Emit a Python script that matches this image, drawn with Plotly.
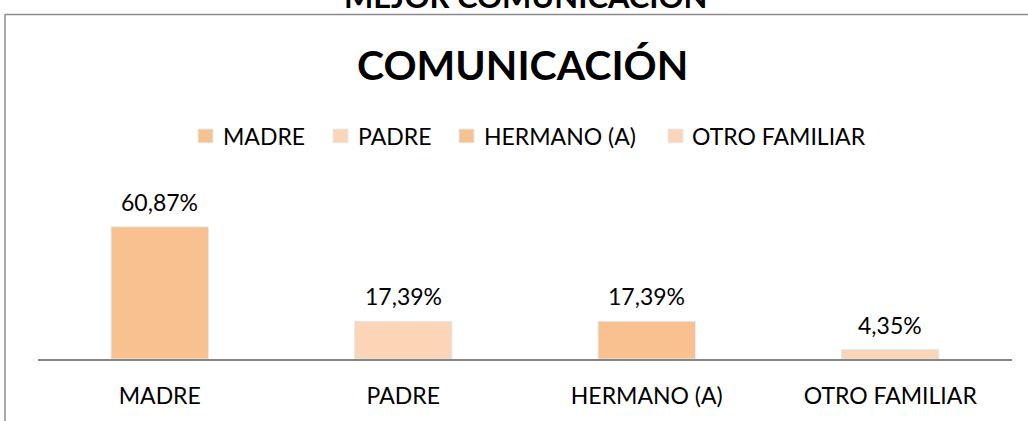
import plotly.graph_objects as go

categories = ["MADRE", "PADRE", "HERMANO (A)", "OTRO FAMILIAR"]
values = [60.87, 17.39, 17.39, 4.35]
labels = ["60,87%", "17,39%", "17,39%", "4,35%"]
colors = ["#F9C18F", "#FBD5B5", "#F9C18F", "#FBD5B5"]

FONT = "Lato"
FS = 23
W, H = 1028, 421
L, R, T, B = 38, 16, 207, 60
PW, PH = W - L - R, H - T - B

def px(x):
    return (x - L) / PW

def py(y):
    return (H - B - y) / PH

fig = go.Figure()
for c, v, col in zip(categories, values, colors):
    fig.add_trace(go.Bar(
        x=[c], y=[v], name=c, showlegend=False,
        marker=dict(color=col, line=dict(color="#DDEEF3", width=1)),
        width=0.4, cliponaxis=False,
    ))

# data labels above bars
annotations = [
    dict(text=t, x=c, y=v, xref="x", yref="y", xanchor="center", yanchor="bottom",
         yshift=9, showarrow=False, font=dict(size=FS, family=FONT, color="#000000"))
    for c, v, t in zip(categories, values, labels)
]
annotations += [
    dict(text="<b>COMUNICACIÓN</b>", xref="paper", yref="paper", x=px(522), y=py(63),
         xanchor="center", yanchor="middle", showarrow=False,
         font=dict(size=41, family=FONT, color="#000000")),
    dict(text="<b>MEJOR COMUNICACIÓN</b>", xref="paper", yref="paper", x=px(525), y=py(15),
         xanchor="center", yanchor="bottom", showarrow=False,
         font=dict(size=31, family=FONT, color="#000000")),
]

shapes = [
    dict(type="line", xref="paper", yref="paper", x0=px(5), x1=px(1030), y0=py(12), y1=py(12),
         line=dict(color="#8C8C8C", width=1.5)),
    dict(type="line", xref="paper", yref="paper", x0=px(5), x1=px(5), y0=py(12), y1=py(425),
         line=dict(color="#8C8C8C", width=1.5)),
]

# legend (custom, to match the reference's symbol size and spacing)
legend_marker_x = [198, 333, 459, 668]
legend_text_x = [221, 356, 482, 690]
legend_y = 135
for c, col, mx, tx in zip(categories, colors, legend_marker_x, legend_text_x):
    shapes.append(dict(type="rect", xref="paper", yref="paper",
                       x0=px(mx), x1=px(mx + 15), y0=py(legend_y - 7), y1=py(legend_y + 7),
                       fillcolor=col, line=dict(color="#DDEEF3", width=1)))
    annotations.append(dict(text=c, xref="paper", yref="paper", x=px(tx), y=py(legend_y),
                            xanchor="left", yanchor="middle", showarrow=False,
                            font=dict(size=FS, family=FONT, color="#000000")))

fig.update_layout(
    width=W, height=H,
    margin=dict(l=L, r=R, t=T, b=B),
    paper_bgcolor="white", plot_bgcolor="white",
    barmode="overlay",
    showlegend=False,
    font=dict(family=FONT, color="#000000"),
    xaxis=dict(showline=True, linecolor="#868686", linewidth=1.5, ticks="",
               tickfont=dict(size=FS, family=FONT), showgrid=False,
               ticklabelstandoff=16, fixedrange=True),
    yaxis=dict(visible=False, range=[0, 70], showgrid=False, fixedrange=True),
    shapes=shapes,
    annotations=annotations,
)

fig.write_html("out.html", config={"displayModeBar": False},
               post_script="document.body.style.margin='0';")
